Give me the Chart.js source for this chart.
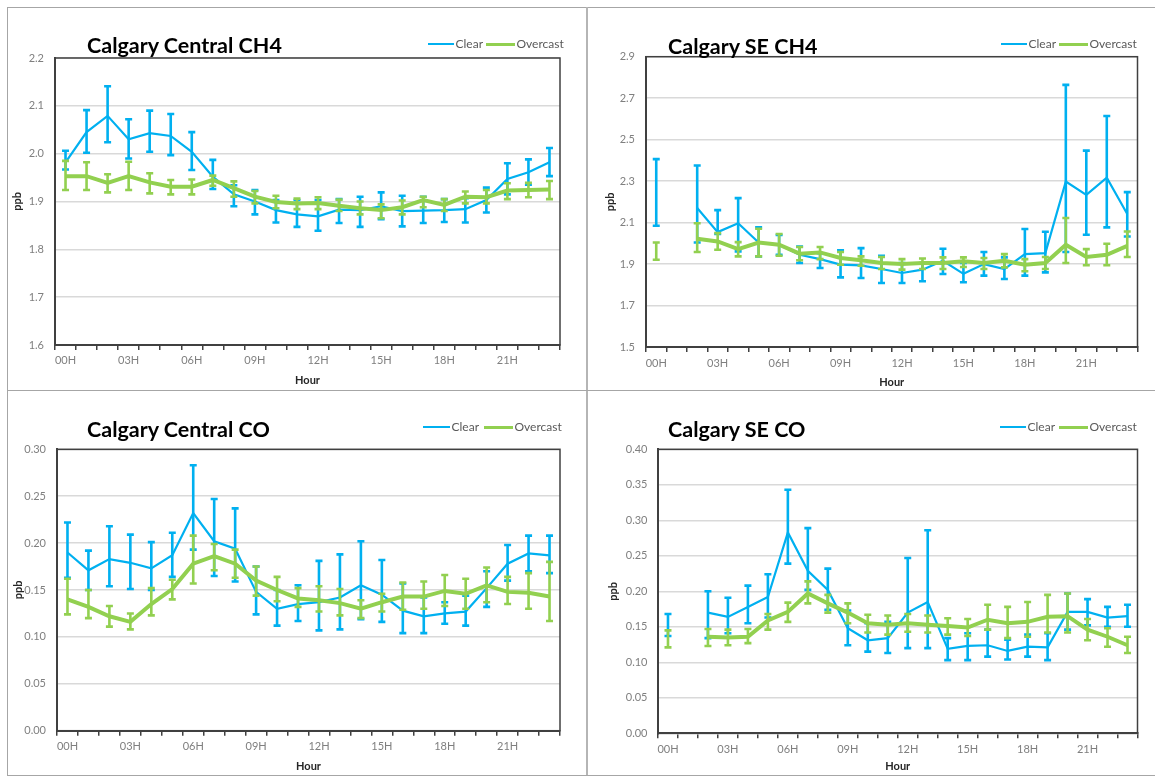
<!DOCTYPE html>
<html>
<head>
<meta charset="utf-8">
<script src="https://cdn.jsdelivr.net/npm/chart.js@4.4.1/dist/chart.umd.min.js"></script>
<style>
  html, body { margin: 0; padding: 0; background: #fff; }
  #page { position: relative; width: 1155px; height: 776px; overflow: hidden; font-family: Lato, "Open Sans", sans-serif; }
  .frame { position: absolute; background: #a6a6a6; }
  .panel { position: absolute; }
  .title { position: absolute; font-weight: bold; font-size: 21.5px; line-height: 26px; color: #000; white-space: nowrap; }
  .leg-line { position: absolute; height: 3px; }
  .leg-text { position: absolute; font-size: 12px; line-height: 14px; color: #595959; white-space: nowrap; }
</style>
</head>
<body>
<div id="page">
  <div class="frame" style="left:7px;top:7px;width:1px;height:768px"></div>
  <div class="frame" style="left:7px;top:7px;width:1148px;height:1px"></div>
  <div class="frame" style="left:7px;top:775px;width:1148px;height:1px"></div>
  <div class="frame" style="left:586px;top:7px;width:2px;height:768px;background:#b5b5b5"></div>
  <div class="frame" style="left:7px;top:390px;width:1148px;height:1px"></div>
</div>
<script>
// Hour-of-day categories (x axis)
const hours = ['00H','01H','02H','03H','04H','05H','06H','07H','08H','09H','10H','11H',
               '12H','13H','14H','15H','16H','17H','18H','19H','20H','21H','22H','23H'];

// Calgary Central CH4 (ppb): mean and error-bar limits
const centralCh4Clear     = [1.982,2.045,2.079,2.030,2.043,2.037,2.004,1.952,1.915,1.900,1.882,1.873,1.869,1.883,1.882,1.890,1.880,1.881,1.882,1.884,1.903,1.947,1.961,1.982];
const centralCh4ClearLo   = [1.967,2.002,2.024,1.990,2.004,1.997,1.966,1.926,1.890,1.873,1.856,1.847,1.839,1.855,1.847,1.863,1.848,1.855,1.857,1.856,1.877,1.915,1.935,1.953];
const centralCh4ClearHi   = [2.006,2.091,2.141,2.072,2.090,2.083,2.045,1.987,1.934,1.924,1.903,1.903,1.903,1.905,1.910,1.919,1.912,1.910,1.905,1.907,1.929,1.980,1.988,2.012];
const centralCh4Overcast   = [1.953,1.953,1.939,1.953,1.940,1.931,1.931,1.945,1.928,1.910,1.899,1.896,1.897,1.891,1.886,1.882,1.888,1.903,1.893,1.910,1.909,1.923,1.924,1.925];
const centralCh4OvercastLo = [1.924,1.924,1.919,1.924,1.917,1.915,1.915,1.933,1.910,1.896,1.886,1.884,1.884,1.880,1.873,1.865,1.873,1.888,1.880,1.896,1.896,1.905,1.909,1.905];
const centralCh4OvercastHi = [1.985,1.982,1.957,1.983,1.959,1.945,1.946,1.954,1.942,1.922,1.912,1.906,1.909,1.904,1.900,1.894,1.902,1.910,1.905,1.921,1.924,1.938,1.939,1.943];

// Calgary SE CH4 (ppb)
const seCh4Clear     = [2.245,null,2.170,2.054,2.097,2.004,1.993,1.945,1.924,1.897,1.894,1.876,1.857,1.873,1.916,1.853,1.900,1.876,1.948,1.953,2.298,2.234,2.317,2.141];
const seCh4ClearLo   = [2.085,null,2.004,2.045,1.961,1.937,1.945,1.905,1.881,1.836,1.833,1.809,1.809,1.817,1.852,1.812,1.844,1.828,1.844,1.860,1.958,2.041,2.077,2.033];
const seCh4ClearHi   = [2.406,null,2.375,2.160,2.218,2.077,2.040,1.985,1.952,1.966,1.977,1.940,1.905,1.905,1.974,1.905,1.958,1.932,2.069,2.056,2.764,2.447,2.614,2.247];
const seCh4Overcast   = [1.962,null,2.022,2.009,1.972,2.004,1.993,1.950,1.956,1.929,1.918,1.905,1.900,1.905,1.905,1.913,1.905,1.916,1.897,1.905,1.993,1.934,1.945,1.988];
const seCh4OvercastLo = [1.921,null,1.958,1.969,1.937,1.937,1.940,1.918,1.924,1.897,1.892,1.876,1.873,1.876,1.876,1.886,1.876,1.884,1.865,1.876,1.905,1.894,1.894,1.934];
const seCh4OvercastHi = [2.004,null,2.097,2.049,2.006,2.070,2.045,1.982,1.982,1.958,1.937,1.934,1.924,1.927,1.932,1.932,1.929,1.948,1.924,1.934,2.122,1.972,1.998,2.057];

// Calgary Central CO (ppb)
const centralCoClear     = [0.190,0.171,0.183,0.179,0.173,0.187,0.232,0.202,0.194,0.148,0.130,0.135,0.137,0.142,0.155,0.145,0.128,0.122,0.125,0.127,0.152,0.178,0.189,0.187];
const centralCoClearLo   = [0.163,0.150,0.154,0.151,0.150,0.164,0.193,0.165,0.159,0.124,0.112,0.117,0.107,0.108,0.119,0.116,0.104,0.104,0.114,0.112,0.132,0.160,0.170,0.168];
const centralCoClearHi   = [0.222,0.192,0.218,0.209,0.201,0.211,0.283,0.247,0.237,0.175,0.150,0.155,0.181,0.188,0.202,0.182,0.157,0.142,0.137,0.144,0.170,0.198,0.208,0.208];
const centralCoOvercast   = [0.140,0.132,0.122,0.116,0.135,0.151,0.178,0.186,0.178,0.160,0.150,0.141,0.139,0.136,0.130,0.137,0.143,0.143,0.149,0.146,0.155,0.148,0.147,0.143];
const centralCoOvercastLo = [0.124,0.120,0.111,0.108,0.123,0.140,0.157,0.171,0.163,0.144,0.138,0.132,0.127,0.123,0.120,0.127,0.129,0.130,0.133,0.130,0.137,0.135,0.130,0.117];
const centralCoOvercastHi = [0.162,0.150,0.133,0.125,0.152,0.161,0.208,0.199,0.193,0.175,0.164,0.152,0.154,0.151,0.139,0.146,0.158,0.159,0.166,0.162,0.174,0.164,0.168,0.180];

// Calgary SE CO (ppb)
const seCoClear     = [0.150,null,0.170,0.164,0.178,0.192,0.283,0.229,0.202,0.148,0.131,0.134,0.170,0.185,0.119,0.123,0.124,0.116,0.122,0.121,0.171,0.171,0.163,0.165];
const seCoClearLo   = [0.137,null,0.134,0.141,0.155,0.163,0.239,0.202,0.174,0.124,0.115,0.113,0.120,0.120,0.103,0.103,0.108,0.104,0.108,0.103,0.146,0.152,0.150,0.150];
const seCoClearHi   = [0.168,null,0.200,0.191,0.208,0.224,0.343,0.289,0.232,0.173,0.155,0.157,0.247,0.286,0.134,0.141,0.146,0.132,0.139,0.141,0.197,0.189,0.178,0.181];
const seCoOvercast   = [0.133,null,0.136,0.135,0.136,0.159,0.171,0.197,0.183,0.170,0.155,0.153,0.155,0.153,0.151,0.149,0.160,0.155,0.157,0.164,0.165,0.146,0.136,0.124];
const seCoOvercastLo = [0.121,null,0.123,0.124,0.127,0.146,0.157,0.183,0.170,0.155,0.142,0.139,0.143,0.142,0.139,0.137,0.146,0.134,0.136,0.142,0.142,0.131,0.122,0.113];
const seCoOvercastHi = [0.145,null,0.147,0.146,0.147,0.168,0.184,0.214,0.195,0.183,0.167,0.166,0.168,0.166,0.162,0.161,0.181,0.178,0.185,0.195,0.197,0.161,0.148,0.136];

const CLEAR = '#00b0f0';
const OVERCAST = '#92d050';
const FONT = 'Lato, "Open Sans", sans-serif';

// Vertical error bars with caps, drawn right after each line series
const errorBars = {
  id: 'errorBars',
  afterDatasetDraw(chart, args) {
    const ds = chart.data.datasets[args.index];
    if (!ds.errLow) return;
    const xs = chart.scales.x, ys = chart.scales.y, ctx = chart.ctx;
    ctx.save();
    ctx.strokeStyle = ds.borderColor;
    ctx.lineWidth = 2.6;
    ctx.lineCap = 'butt';
    for (let i = 0; i < ds.errLow.length; i++) {
      const lo = ds.errLow[i], hi = ds.errHigh[i];
      if (lo == null || hi == null) continue;
      const x = xs.getPixelForValue(i);
      const y1 = ys.getPixelForValue(lo), y2 = ys.getPixelForValue(hi);
      ctx.beginPath();
      ctx.moveTo(x, y1); ctx.lineTo(x, y2);
      ctx.moveTo(x - 3.5, y1); ctx.lineTo(x + 3.5, y1);
      ctx.moveTo(x - 3.5, y2); ctx.lineTo(x + 3.5, y2);
      ctx.stroke();
    }
    ctx.restore();
  }
};

// Dark box around the plotting area
const plotBox = {
  id: 'plotBox',
  afterDraw(chart) {
    const a = chart.chartArea, ctx = chart.ctx;
    ctx.save();
    ctx.strokeStyle = '#404040';
    ctx.lineWidth = 1.5;
    ctx.strokeRect(a.left, a.top, a.right - a.left, a.bottom - a.top);
    ctx.restore();
  }
};

function addText(cls, left, top, text, extra) {
  const el = document.createElement('div');
  el.className = cls;
  el.style.left = left + 'px';
  el.style.top = top + 'px';
  if (text) el.textContent = text;
  if (extra) Object.assign(el.style, extra);
  document.getElementById('page').appendChild(el);
  return el;
}

function makePanel(p) {
  const page = document.getElementById('page');
  const holder = document.createElement('div');
  holder.className = 'panel';
  holder.style.left = p.box[0] + 'px';
  holder.style.top = p.box[1] + 'px';
  holder.style.width = p.box[2] + 'px';
  holder.style.height = p.box[3] + 'px';
  const canvas = document.createElement('canvas');
  holder.appendChild(canvas);
  page.appendChild(holder);

  // heading and legend
  addText('title', p.titleX, p.titleY - 13, p.title);
  const lg = p.legend;
  addText('leg-line', lg[0], p.legendY - 1.5, '', { width: (lg[1] - lg[0]) + 'px', background: CLEAR, height: '2.5px' });
  addText('leg-text', lg[1] + 1.5, p.legendY - 7.5, 'Clear');
  addText('leg-line', lg[2], p.legendY - 1.5, '', { width: (lg[3] - lg[2]) + 'px', background: OVERCAST, height: '3.5px' });
  addText('leg-text', lg[3] + 1.5, p.legendY - 7.5, 'Overcast');

  new Chart(canvas, {
    type: 'line',
    data: {
      labels: hours,
      datasets: [
        { label: 'Clear', data: p.clear, errLow: p.clearLo, errHigh: p.clearHi,
          borderColor: CLEAR, backgroundColor: CLEAR, borderWidth: 2.2, pointRadius: 0,
          tension: 0, spanGaps: false, order: 1 },
        { label: 'Overcast', data: p.overcast, errLow: p.overcastLo, errHigh: p.overcastHi,
          borderColor: OVERCAST, backgroundColor: OVERCAST, borderWidth: 4, pointRadius: 0,
          tension: 0, spanGaps: false, order: 0 }
      ]
    },
    options: {
      responsive: true,
      maintainAspectRatio: false,
      animation: false,
      events: [],
      layout: { padding: p.pad },
      plugins: { legend: { display: false }, title: { display: false }, tooltip: { enabled: false } },
      scales: {
        x: {
          type: 'category',
          offset: true,
          grid: { offset: true, drawOnChartArea: false, drawTicks: true, tickLength: 5,
                  color: '#404040', lineWidth: 1.5 },
          border: { color: '#404040', width: 2 },
          ticks: {
            autoSkip: false, maxRotation: 0, minRotation: 0, padding: p.xPad,
            color: '#7f7f7f', font: { family: FONT, size: 11 },
            callback: (v, i) => (i % 3 === 0 ? hours[i] : '')
          },
          title: { display: true, text: 'Hour', color: '#262626',
                   font: { family: FONT, size: 11, weight: 'bold' }, padding: { top: 0, bottom: 0 } },
          afterFit: s => { s.height = p.xH; }
        },
        y: {
          min: p.min, max: p.max,
          grid: { color: '#d9d9d9', lineWidth: 1.5, drawTicks: false },
          border: { color: '#404040', width: 2 },
          ticks: {
            stepSize: p.step, padding: p.yPad, color: '#7f7f7f',
            font: { family: FONT, size: 11 },
            callback: v => Number(v).toFixed(p.dec)
          },
          title: { display: true, text: 'ppb', color: '#262626',
                   font: { family: FONT, size: 11, weight: 'bold' }, padding: { top: 0, bottom: 0 } },
          afterFit: s => { s.width = p.yW; }
        }
      }
    },
    plugins: [errorBars, plotBox]
  });
}

makePanel({
  box: [8, 8, 578, 382], title: 'Calgary Central CH4', titleX: 87, titleY: 45,
  legend: [428, 454, 486, 515], legendY: 44,
  clear: centralCh4Clear, clearLo: centralCh4ClearLo, clearHi: centralCh4ClearHi,
  overcast: centralCh4Overcast, overcastLo: centralCh4OvercastLo, overcastHi: centralCh4OvercastHi,
  min: 1.6, max: 2.2, step: 0.1, dec: 1,
  pad: { left: 2.4, top: 50, right: 26, bottom: 3.4 }, yW: 44.6, xH: 41.6, xPad: 4, yPad: 11
});

makePanel({
  box: [588, 8, 562, 382], title: 'Calgary SE CH4', titleX: 668, titleY: 46,
  legend: [1001, 1027, 1059, 1088], legendY: 44,
  clear: seCh4Clear, clearLo: seCh4ClearLo, clearHi: seCh4ClearHi,
  overcast: seCh4Overcast, overcastLo: seCh4OvercastLo, overcastHi: seCh4OvercastHi,
  min: 1.5, max: 2.9, step: 0.2, dec: 1,
  pad: { left: 15.4, top: 48.7, right: 12.5, bottom: 1.4 }, yW: 42.6, xH: 41.6, xPad: 4.5, yPad: 11
});

makePanel({
  box: [8, 392, 578, 383], title: 'Calgary Central CO', titleX: 87, titleY: 429,
  legend: [423, 450, 484, 513], legendY: 427,
  clear: centralCoClear, clearLo: centralCoClearLo, clearHi: centralCoClearHi,
  overcast: centralCoOvercast, overcastLo: centralCoOvercastLo, overcastHi: centralCoOvercastHi,
  min: 0, max: 0.3, step: 0.05, dec: 2,
  pad: { left: 4.2, top: 57.3, right: 26, bottom: 2.4 }, yW: 44.8, xH: 41.9, xPad: 4, yPad: 11
});

makePanel({
  box: [588, 392, 562, 383], title: 'Calgary SE CO', titleX: 668, titleY: 429,
  legend: [1000, 1026, 1059, 1088], legendY: 427,
  clear: seCoClear, clearLo: seCoClearLo, clearHi: seCoClearHi,
  overcast: seCoOvercast, overcastLo: seCoOvercastLo, overcastHi: seCoOvercastHi,
  min: 0, max: 0.4, step: 0.05, dec: 2,
  pad: { left: 18.4, top: 57.3, right: 12.5, bottom: 2.4 }, yW: 51.6, xH: 39.3, xPad: 5, yPad: 10.5
});
</script>
</body>
</html>
